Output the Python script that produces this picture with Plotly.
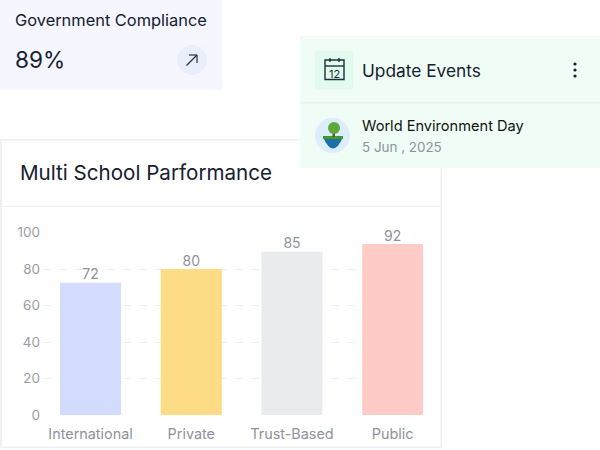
import plotly.graph_objects as go

categories = ["International", "Private", "Trust-Based", "Public"]
bar_heights = [72.5, 80, 89.5, 93.7]
bar_labels = ["72", "80", "85", "92"]
bar_colors = ["#D3DCFE", "#FDDC85", "#E9EBEF", "#FFCBC7"]
y_ticks = [0, 20, 40, 60, 80, 100]

W = 600
H = 450
FONT = "Inter"
DARK = "#16202F"
GREY = "#8F929C"


def px(x):
    return x / W


def py(y):
    return 1 - y / H


def rect(x0, y0, x1, y1, color):
    return dict(type="rect", xref="paper", yref="paper", x0=px(x0), y0=py(y0), x1=px(x1), y1=py(y1),
                fillcolor=color, line_width=0, layer="below")


def circle(cx, cy, r, color):
    return dict(type="circle", xref="paper", yref="paper", x0=px(cx - r), y0=py(cy - r), x1=px(cx + r), y1=py(cy + r),
                fillcolor=color, line_width=0, layer="below")


def line(x0, y0, x1, y1, color, width=1.4):
    return dict(type="line", xref="paper", yref="paper", x0=px(x0), y0=py(y0), x1=px(x1), y1=py(y1),
                line=dict(color=color, width=width), layer="below")


def box(x0, y0, x1, y1, color, width=1.4):
    return dict(type="rect", xref="paper", yref="paper", x0=px(x0), y0=py(y0), x1=px(x1), y1=py(y1),
                fillcolor="rgba(0,0,0,0)", line=dict(color=color, width=width), layer="below")


def label(x, y, text, size, color=DARK, weight=400):
    return dict(xref="paper", yref="paper", x=px(x), y=py(y), text=text, showarrow=False, xanchor="left",
                yanchor="middle", borderpad=0, borderwidth=0,
                font=dict(family=FONT, size=size, color=color, weight=weight))


shapes = [
    # compliance card
    rect(0, 0, 222, 90, "#F5F6FF"),
    circle(192, 60, 15, "#E9EDFC"),
    line(186.5, 65.5, 197, 55, "#2A3140", 1.2),
    line(189, 55, 197, 55, "#2A3140", 1.2),
    line(197, 55, 197, 63, "#2A3140", 1.2),
    # chart card
    rect(0, 139, 442, 448, "#EEF0F3"),
    rect(2, 140.5, 440.5, 446.5, "#FFFFFF"),
    rect(2, 206, 440.5, 207, "#EEF0F3"),
    # events panel
    rect(300, 36, 600, 168, "#EFFDF6"),
    rect(300, 102, 600, 103.5, "#E8F3EE"),
    rect(315, 51, 353, 89, "#E1FBEE"),
    box(325, 60, 344, 79.5, "#1D3038"),
    line(325, 66, 344, 66, "#1D3038"),
    line(330, 58, 330, 62, "#1D3038"),
    line(339, 58, 339, 62, "#1D3038"),
    circle(575, 64, 1.6, "#16202F"),
    circle(575, 70, 1.6, "#16202F"),
    circle(575, 76, 1.6, "#16202F"),
    # avatar
    circle(332.5, 135.5, 17.5, "#DCEEFC"),
    dict(type="path", xref="paper", yref="paper", layer="below", line_width=0, fillcolor="#1E6FA8",
         path=f"M {px(323)} {py(137)} Q {px(333)} {py(160)} {px(343)} {py(137)} Z"),
    rect(323, 136, 343, 139, "#3F9A2E"),
    rect(332.5, 128, 335, 137, "#7A4E2A"),
    circle(334, 128, 6, "#5FA83A"),
]

annotations = [
    label(15, 20, "Government Compliance", 16.4),
    label(15, 60, "89%", 22.6),
    label(20, 173, "Multi School Parformance", 20.6),
    label(362, 70, "Update Events", 17.3),
    label(362, 126, "World Environment Day", 14.6, "#111111"),
    label(362, 147, "5 Jun , 2025", 13.4, GREY),
    label(329, 73.5, "12", 11, "#1D3038"),
]

fig = go.Figure(go.Bar(x=categories, y=bar_heights, width=0.606, marker=dict(color=bar_colors, line_width=0)))
fig.add_trace(go.Scatter(x=categories, y=bar_heights, mode="text", text=bar_labels, textposition="top center",
                         cliponaxis=False, textfont=dict(family=FONT, size=14, color=GREY)))

fig.update_layout(width=W, height=H, margin=dict(l=0, r=0, t=0, b=0), autosize=False, showlegend=False,
                  paper_bgcolor="#FFFFFF", plot_bgcolor="rgba(0,0,0,0)", shapes=shapes, annotations=annotations,
                  font=dict(family=FONT))
fig.update_xaxes(domain=[px(43), px(423.2)], range=[-0.472, 3.3026], showgrid=False, zeroline=False, showline=False,
                 automargin=False, ticks="", ticklabelstandoff=9, tickfont=dict(family=FONT, size=14.4, color=GREY))
fig.update_yaxes(domain=[py(415), py(232.5)], range=[0, 100], tickvals=y_ticks, zeroline=False, showline=False,
                 automargin=False, gridcolor="#EEF0F3", griddash="8px,8px", gridwidth=1, ticks="", ticklabelstandoff=2,
                 tickfont=dict(family=FONT, size=13.5, color="#9A9DA6"))

fig.write_html("out.html", config=dict(displayModeBar=False), post_script="document.body.style.margin='0';")
